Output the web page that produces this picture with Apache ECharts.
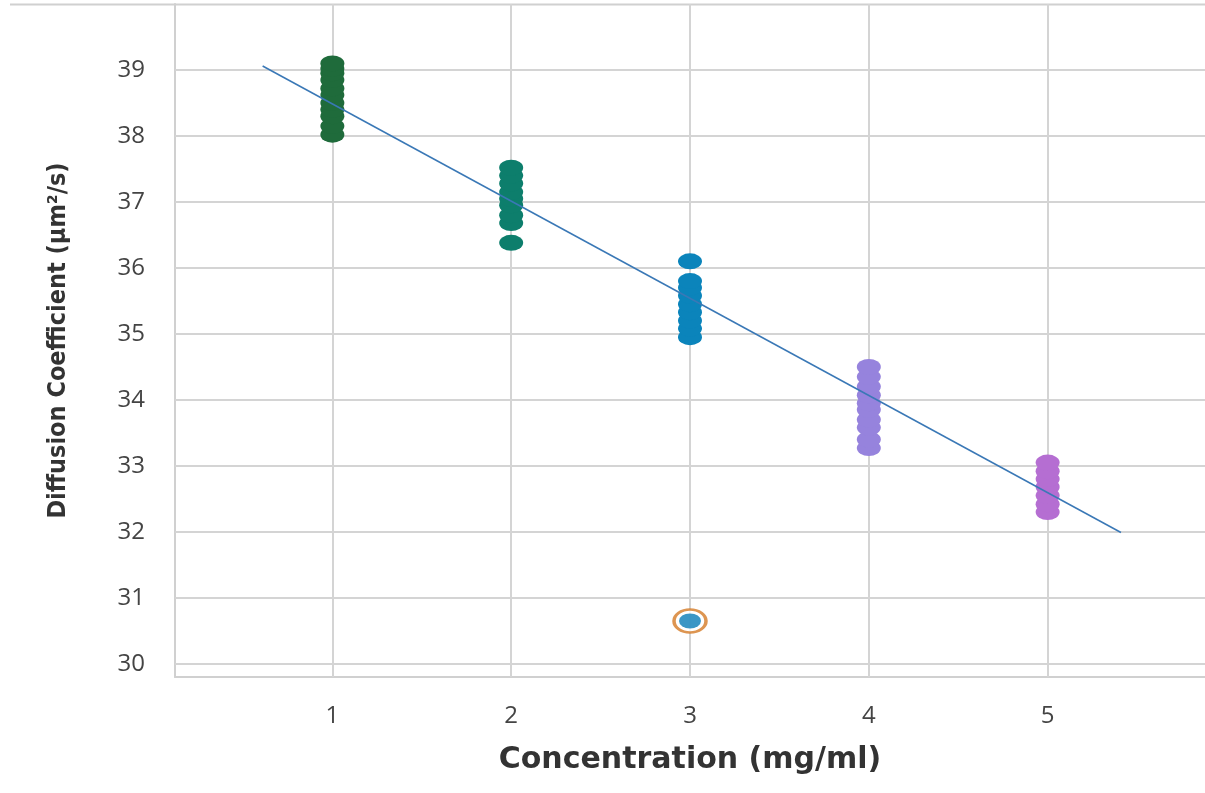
<!DOCTYPE html>
<html>
<head>
<meta charset="utf-8">
<script src="https://cdn.jsdelivr.net/npm/echarts@6/dist/echarts.min.js"></script>
<style>
html,body{margin:0;padding:0;background:#fff;}
#chart{width:1205px;height:793px;}
</style>
</head>
<body>
<div id="chart"></div>
<script>
// ---- data ----
var xTicks = [1, 2, 3, 4, 5];
var yTicks = [30, 31, 32, 33, 34, 35, 36, 37, 38, 39];
var conc1 = [38.02, 38.15, 38.3, 38.4, 38.5, 38.62, 38.72, 38.85, 38.95, 39.02, 39.1];
var conc2 = [36.38, 36.68, 36.8, 36.95, 37.05, 37.15, 37.28, 37.4, 37.52];
var conc3 = [34.95, 35.08, 35.2, 35.33, 35.45, 35.58, 35.7, 35.8, 36.1];
var conc4 = [33.27, 33.4, 33.58, 33.7, 33.85, 33.95, 34.07, 34.2, 34.35, 34.5];
var conc5 = [32.3, 32.42, 32.55, 32.68, 32.8, 32.92, 33.05];
var outlier = [[3, 30.65]];
var fitLine = [[0.61, 39.06], [5.41, 31.99]];
var groupColors = ['#1f6b3b', '#0d7e6c', '#0b84bb', '#9683dd', '#b56ed2'];

var ellipse = 'path://M0,10A10,10 0 1,1 20,10A10,10 0 1,1 0,10Z';
var groups = [conc1, conc2, conc3, conc4, conc5];

var series = [];
// grid lines (drawn beneath the marks)
series.push({
  type: 'line',
  data: [],
  z: 1,
  silent: true,
  markLine: {
    silent: true,
    symbol: 'none',
    z: 1,
    label: { show: false },
    lineStyle: { color: '#d4d4d4', width: 2, type: 'solid' },
    data: yTicks.map(function (v) { return { yAxis: v }; })
      .concat(xTicks.map(function (v) { return { xAxis: v }; }))
  }
});
groups.forEach(function (vals, i) {
  series.push({
    type: 'scatter',
    symbol: ellipse,
    symbolSize: [24, 16],
    itemStyle: { color: groupColors[i], opacity: 1 },
    data: vals.map(function (v) { return [xTicks[i], v]; }),
    z: 3
  });
});
series.push({
  type: 'scatter',
  symbol: ellipse,
  symbolSize: [32, 23],
  itemStyle: { color: '#ffffff', borderColor: '#d47a25', borderWidth: 3 },
  data: outlier,
  z: 3
});
series.push({
  type: 'scatter',
  symbol: ellipse,
  symbolSize: [22, 15],
  itemStyle: { color: '#0a7cb6' },
  data: outlier,
  z: 4
});
series.push({
  type: 'line',
  data: fitLine,
  symbol: 'none',
  lineStyle: { color: '#3a78b6', width: 1.5 },
  z: 5
});

var chart = echarts.init(document.getElementById('chart'));
chart.setOption({
  animation: false,
  backgroundColor: '#ffffff',
  grid: { left: 175, right: 0, top: 4, bottom: 116 },
  xAxis: {
    type: 'value',
    min: 0.12,
    max: 5.88,
    name: 'Concentration (mg/ml)',
    nameLocation: 'middle',
    nameGap: 68,
    nameTextStyle: { fontFamily: 'DejaVu Sans', fontWeight: 'bold', fontSize: 30, color: '#333' },
    axisLine: { show: true, lineStyle: { color: '#d0d0d0', width: 2 } },
    axisTick: { show: false },
    splitLine: { show: false },
    axisLabel: {
      customValues: xTicks,
      margin: 27,
      fontFamily: 'Open Sans',
      fontSize: 24,
      color: '#444'
    }
  },
  yAxis: {
    type: 'value',
    min: 29.8,
    max: 40,
    name: 'Diffusion Coefficient (µm²/s)',
    nameLocation: 'middle',
    nameGap: 104,
    nameTextStyle: { fontFamily: "'DejaVu Sans Condensed', 'Noto Sans', sans-serif", fontWeight: 'bold', fontSize: 25, color: '#333' },
    axisLine: { show: true, lineStyle: { color: '#d0d0d0', width: 2 } },
    axisTick: { show: false },
    splitLine: { show: false },
    axisLabel: {
      customValues: yTicks,
      margin: 30,
      fontFamily: 'Open Sans',
      fontSize: 24,
      color: '#444'
    }
  },
  graphic: [{
    type: 'line',
    shape: { x1: 10, y1: 4.5, x2: 1205, y2: 4.5 },
    style: { stroke: '#d0d0d0', lineWidth: 2 },
    silent: true
  }],
  series: series
});
</script>
</body>
</html>
